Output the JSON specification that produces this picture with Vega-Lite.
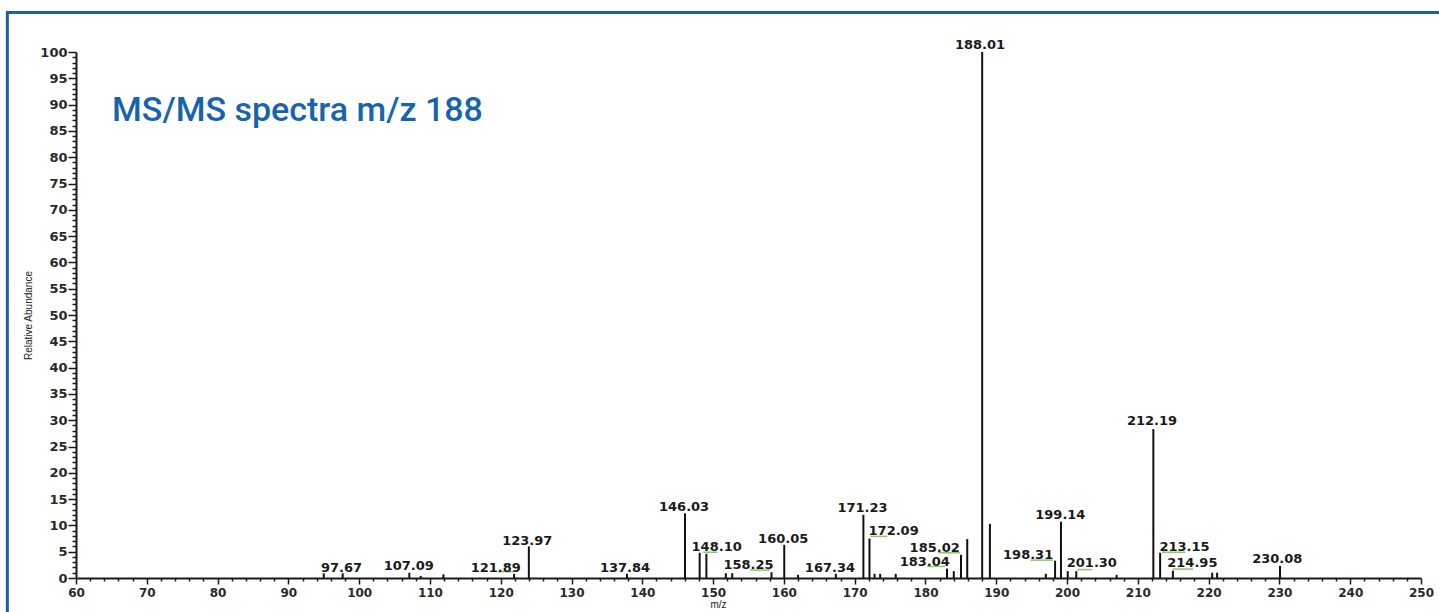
{
  "$schema": "https://vega.github.io/schema/vega-lite/v6.json",
  "width": 1345,
  "height": 526,
  "autosize": {"type": "none"},
  "padding": {"left": 76, "top": 52, "right": 18, "bottom": 34},
  "background": "white",
  "config": {"view": {"stroke": null}},
  "datasets": {
    "peaks": [
      {"mz": 95.0, "abundance": 0.9},
      {"mz": 97.67, "abundance": 0.9},
      {"mz": 107.09, "abundance": 1.0},
      {"mz": 108.7, "abundance": 0.4},
      {"mz": 111.9, "abundance": 0.7},
      {"mz": 121.89, "abundance": 0.8},
      {"mz": 123.97, "abundance": 6.0},
      {"mz": 137.84, "abundance": 0.8},
      {"mz": 146.03, "abundance": 12.3},
      {"mz": 148.10, "abundance": 4.8},
      {"mz": 149.05, "abundance": 4.6},
      {"mz": 151.8, "abundance": 0.9},
      {"mz": 152.7, "abundance": 0.9},
      {"mz": 158.25, "abundance": 1.1},
      {"mz": 160.05, "abundance": 6.3},
      {"mz": 162.0, "abundance": 0.6},
      {"mz": 167.34, "abundance": 0.8},
      {"mz": 171.23, "abundance": 12.0},
      {"mz": 172.09, "abundance": 7.5},
      {"mz": 172.8, "abundance": 0.8},
      {"mz": 173.6, "abundance": 0.8},
      {"mz": 175.8, "abundance": 0.8},
      {"mz": 183.04, "abundance": 1.8},
      {"mz": 184.0, "abundance": 1.3},
      {"mz": 185.02, "abundance": 4.4},
      {"mz": 185.9, "abundance": 7.4},
      {"mz": 188.01, "abundance": 100},
      {"mz": 189.1, "abundance": 10.3},
      {"mz": 197.0, "abundance": 0.8},
      {"mz": 198.31, "abundance": 3.3},
      {"mz": 199.14, "abundance": 10.7},
      {"mz": 200.1, "abundance": 1.3},
      {"mz": 201.30, "abundance": 1.3},
      {"mz": 207.0, "abundance": 0.6},
      {"mz": 212.19, "abundance": 28.3},
      {"mz": 213.15, "abundance": 4.8},
      {"mz": 214.95, "abundance": 1.4},
      {"mz": 220.5, "abundance": 1.0},
      {"mz": 221.2, "abundance": 1.0},
      {"mz": 230.08, "abundance": 2.3}
    ],
    "labels": [
      {"label": "97.67", "lx": 97.5, "ly": 1.2},
      {"label": "107.09", "lx": 107.0, "ly": 1.5},
      {"label": "121.89", "lx": 119.3, "ly": 1.1},
      {"label": "123.97", "lx": 123.75, "ly": 6.3},
      {"label": "137.84", "lx": 137.55, "ly": 1.1},
      {"label": "146.03", "lx": 145.9, "ly": 12.7},
      {"label": "148.10", "lx": 150.5, "ly": 5.1},
      {"label": "158.25", "lx": 155.0, "ly": 1.65},
      {"label": "160.05", "lx": 159.9, "ly": 6.6},
      {"label": "167.34", "lx": 166.5, "ly": 1.2},
      {"label": "171.23", "lx": 171.1, "ly": 12.5},
      {"label": "172.09", "lx": 175.5, "ly": 8.2},
      {"label": "183.04", "lx": 179.9, "ly": 2.3},
      {"label": "185.02", "lx": 181.3, "ly": 5.0},
      {"label": "188.01", "lx": 187.7, "ly": 100.6},
      {"label": "198.31", "lx": 194.5, "ly": 3.7},
      {"label": "199.14", "lx": 199.05, "ly": 11.3},
      {"label": "201.30", "lx": 203.5, "ly": 2.0},
      {"label": "212.19", "lx": 212.0, "ly": 29.0},
      {"label": "213.15", "lx": 216.6, "ly": 5.2},
      {"label": "214.95", "lx": 217.7, "ly": 2.0},
      {"label": "230.08", "lx": 229.7, "ly": 2.9}
    ],
    "underlines": [
      {"from": 119.6, "to": 121.7, "level": 1.2},
      {"from": 148.6, "to": 150.6, "level": 4.9},
      {"from": 155.2, "to": 158.0, "level": 1.5},
      {"from": 172.2, "to": 174.6, "level": 7.9},
      {"from": 180.2, "to": 182.8, "level": 2.2},
      {"from": 181.8, "to": 184.9, "level": 4.8},
      {"from": 194.8, "to": 198.0, "level": 3.4},
      {"from": 201.4, "to": 203.5, "level": 1.6},
      {"from": 213.4, "to": 216.7, "level": 4.9},
      {"from": 214.9, "to": 217.8, "level": 1.7}
    ]
  },
  "layer": [
    {
      "data": {"name": "peaks"},
      "mark": {"type": "rule", "color": "#111111", "strokeWidth": 2},
      "encoding": {
        "x": {
          "field": "mz", "type": "quantitative",
          "scale": {"domain": [60, 250], "nice": false, "zero": false},
          "axis": {
            "tickCount": 95,
            "labelExpr": "datum.value % 10 === 0 ? datum.label : ''",
            "tickSize": {"condition": {"test": "datum.value % 10 === 0", "value": 6}, "value": 3},
            "tickWidth": 1.5,
            "tickColor": "#1a1a1a",
            "domainColor": "#1a1a1a",
            "domainWidth": 2,
            "labelFont": "DejaVu Sans",
            "labelFontWeight": "bold",
            "labelFontSize": 12,
            "labelColor": "#2a2a2a",
            "labelPadding": 3,
            "labelOverlap": false,
            "labelFlush": false,
            "grid": false,
            "title": "m/z",
            "titleFont": "Liberation Sans",
            "titleFontSize": 10,
            "titleFontWeight": "normal",
            "titleColor": "#222222",
            "titlePadding": 1,
            "titleX": 642
          }
        },
        "y": {
          "field": "abundance", "type": "quantitative",
          "scale": {"domain": [0, 100], "nice": false},
          "axis": {
            "tickCount": 100,
            "labelExpr": "datum.value % 5 === 0 ? datum.label : ''",
            "tickSize": {"condition": {"test": "datum.value % 5 === 0", "value": 8}, "value": 4},
            "tickWidth": 1.5,
            "tickColor": "#1a1a1a",
            "domainColor": "#1a1a1a",
            "domainWidth": 2,
            "labelFont": "DejaVu Sans",
            "labelFontWeight": "bold",
            "labelFontSize": 13,
            "labelColor": "#2a2a2a",
            "labelPadding": 1,
            "labelOverlap": false,
            "labelBound": false,
            "labelFlush": false,
            "grid": false,
            "title": "Relative Abundance",
            "titleFont": "Liberation Sans",
            "titleFontSize": 10,
            "titleFontWeight": "normal",
            "titleColor": "#222222",
            "titlePadding": 6
          }
        },
        "y2": {"datum": 0}
      }
    },
    {
      "data": {"name": "underlines"},
      "mark": {"type": "rule", "color": "#8cc56a", "strokeWidth": 1.5},
      "encoding": {
        "x": {"field": "from", "type": "quantitative"},
        "x2": {"field": "to"},
        "y": {"field": "level", "type": "quantitative"}
      }
    },
    {
      "data": {"name": "labels"},
      "mark": {"type": "text", "font": "DejaVu Sans", "fontWeight": "bold", "fontSize": 13, "color": "#1a1a1a", "align": "center", "baseline": "alphabetic"},
      "encoding": {
        "x": {"field": "lx", "type": "quantitative"},
        "y": {"field": "ly", "type": "quantitative"},
        "text": {"field": "label", "type": "nominal"}
      }
    },
    {
      "data": {"values": [{"title": "MS/MS spectra m/z 188"}]},
      "mark": {"type": "text", "font": "Roboto", "fontWeight": 500, "fontSize": 34, "color": "#1764ae", "align": "left", "baseline": "alphabetic"},
      "encoding": {
        "x": {"datum": 65.1, "type": "quantitative"},
        "y": {"datum": 86.9, "type": "quantitative"},
        "text": {"field": "title", "type": "nominal"}
      }
    },
    {
      "data": {"values": [{}]},
      "mark": {"type": "rect", "fill": null, "stroke": "#1d5f9f", "strokeWidth": 3},
      "encoding": {
        "x": {"datum": 50.3, "type": "quantitative"},
        "x2": {"datum": 256},
        "y": {"datum": -8, "type": "quantitative"},
        "y2": {"datum": 107.5}
      }
    }
  ]
}
